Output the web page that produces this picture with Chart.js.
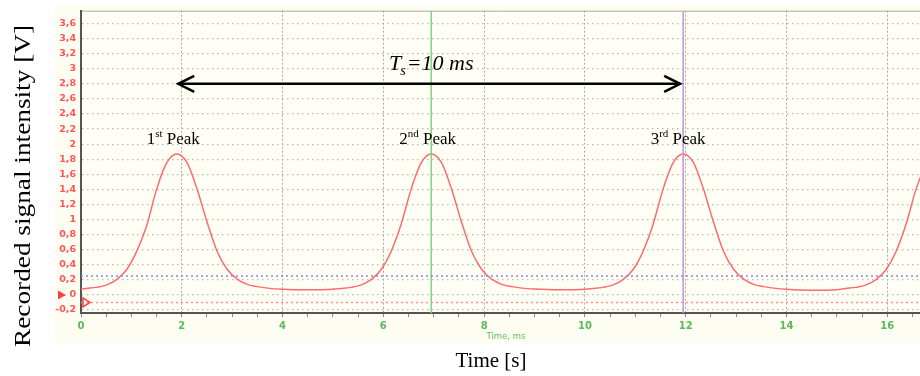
<!DOCTYPE html>
<html>
<head>
<meta charset="utf-8">
<script src="https://cdn.jsdelivr.net/npm/chart.js@4.4.1/dist/chart.umd.min.js"></script>
<style>
  html, body { margin: 0; padding: 0; background: #ffffff; }
  #wrap { width: 920px; height: 376px; }
</style>
</head>
<body>
<div id="wrap"><canvas id="c" width="920" height="376"></canvas></div>
<script>
// ---- data ----
const timeMs = [
  0, 0.1, 0.3, 0.5, 0.7, 0.9, 1.1, 1.3, 1.5, 1.7, 1.9, 2.1, 2.3, 2.5, 2.7, 2.9, 3.1, 3.3, 3.5, 3.7, 4.0, 4.5, 5.0,
  5.15, 5.35, 5.55, 5.75, 5.95, 6.15, 6.35, 6.55, 6.75, 6.95, 7.15, 7.35, 7.55, 7.75, 7.95, 8.15, 8.35, 8.55, 8.75, 9.0, 9.5, 10.0,
  10.15, 10.35, 10.55, 10.75, 10.95, 11.15, 11.35, 11.55, 11.75, 11.95, 12.15, 12.35, 12.55, 12.75, 12.95, 13.15, 13.35, 13.55, 13.75, 14.0, 14.5, 15.0,
  15.17, 15.37, 15.57, 15.77, 15.97, 16.17, 16.37, 16.57, 16.77
];
const signalV = [
  0.075, 0.085, 0.10, 0.13, 0.20, 0.33, 0.57, 0.91, 1.40, 1.75, 1.87, 1.76, 1.41, 0.97, 0.58, 0.34, 0.21, 0.14, 0.11, 0.09, 0.075, 0.068, 0.075,
  0.085, 0.10, 0.13, 0.20, 0.33, 0.57, 0.93, 1.40, 1.75, 1.87, 1.76, 1.41, 0.97, 0.58, 0.34, 0.21, 0.14, 0.11, 0.09, 0.078, 0.068, 0.075,
  0.085, 0.10, 0.13, 0.20, 0.33, 0.57, 0.93, 1.40, 1.75, 1.87, 1.76, 1.41, 0.97, 0.58, 0.34, 0.21, 0.14, 0.11, 0.09, 0.075, 0.063, 0.07,
  0.085, 0.10, 0.13, 0.20, 0.33, 0.57, 0.93, 1.40, 1.75
];
const thresholdV = 0.25;          // blue dotted level
const triggerV = -0.1;            // red dotted level
const cursorTimes = [6.95, 11.95]; // green, purple cursors
const peakLabels = [
  { t: 1.83, v: 2.0, n: '1', sup: 'st' },
  { t: 6.88, v: 2.0, n: '2', sup: 'nd' },
  { t: 11.85, v: 2.0, n: '3', sup: 'rd' }
];
const periodArrow = { from: 1.93, to: 11.89, v: 2.8 };
const periodText = { t: 6.95, v: 2.98 };
const xRange = [0, 16.65];
const yRange = [-0.24, 3.77];

// ---- build datasets ----
const signalPts = timeMs.map((t, i) => ({ x: t, y: signalV[i] }));

const serif = '"Liberation Serif", "Times New Roman", serif';
const sans = '"DejaVu Sans", Verdana, sans-serif';

const decor = {
  id: 'decor',
  beforeDraw(chart) {
    const ctx = chart.ctx, a = chart.chartArea;
    ctx.save();
    ctx.fillStyle = '#ffffff';
    ctx.fillRect(0, 0, chart.width, chart.height);
    ctx.fillStyle = '#fdfdf1';
    ctx.fillRect(55, 4, chart.width - 55, 339);
    ctx.fillStyle = '#fffff5';
    ctx.fillRect(a.left, a.top, a.right - a.left, a.bottom - a.top);
    ctx.strokeStyle = '#a8a8a8';
    ctx.lineWidth = 1;
    ctx.beginPath();
    ctx.moveTo(a.left, a.top + 0.5);
    ctx.lineTo(a.right, a.top + 0.5);
    ctx.stroke();
    ctx.restore();
  },
  afterDraw(chart) {
    const ctx = chart.ctx, xs = chart.scales.x, ys = chart.scales.y;
    ctx.save();
    // trigger markers
    const y0 = ys.getPixelForValue(0);
    ctx.fillStyle = '#ff4040';
    ctx.beginPath();
    ctx.moveTo(58, y0 - 4.5); ctx.lineTo(66, y0); ctx.lineTo(58, y0 + 4.5); ctx.closePath();
    ctx.fill();
    const yt = ys.getPixelForValue(triggerV);
    ctx.strokeStyle = '#ff4040'; ctx.lineWidth = 1.5;
    ctx.beginPath();
    ctx.moveTo(83, yt - 4.5); ctx.lineTo(90, yt); ctx.lineTo(83, yt + 4.5); ctx.closePath();
    ctx.stroke();

    // double-headed arrow
    const xa = xs.getPixelForValue(periodArrow.from), xb = xs.getPixelForValue(periodArrow.to);
    const ya = ys.getPixelForValue(periodArrow.v);
    ctx.strokeStyle = '#000'; ctx.lineWidth = 2.5; ctx.lineCap = 'butt'; ctx.lineJoin = 'miter';
    ctx.beginPath(); ctx.moveTo(xa, ya); ctx.lineTo(xb, ya); ctx.stroke();
    ctx.beginPath(); ctx.moveTo(xa + 16, ya - 8); ctx.lineTo(xa, ya); ctx.lineTo(xa + 16, ya + 8); ctx.stroke();
    ctx.beginPath(); ctx.moveTo(xb - 16, ya - 8); ctx.lineTo(xb, ya); ctx.lineTo(xb - 16, ya + 8); ctx.stroke();

    // T_s = 10 ms
    ctx.fillStyle = '#000';
    ctx.textBaseline = 'alphabetic';
    const tx = xs.getPixelForValue(periodText.t), ty = ys.getPixelForValue(periodText.v);
    ctx.font = 'italic 22px ' + serif;
    const wT = ctx.measureText('T').width;
    ctx.font = 'italic 14px ' + serif;
    const wS = ctx.measureText('s').width;
    ctx.font = 'italic 22px ' + serif;
    const wR = ctx.measureText('=10 ms').width;
    const total = wT + wS + wR;
    let cx = tx - total / 2;
    ctx.textAlign = 'left';
    ctx.fillText('T', cx, ty); cx += wT;
    ctx.font = 'italic 14px ' + serif;
    ctx.fillText('s', cx - 1, ty + 5); cx += wS;
    ctx.font = 'italic 22px ' + serif;
    ctx.fillText('=10 ms', cx, ty);

    // peak labels
    peakLabels.forEach(p => {
      const px = xs.getPixelForValue(p.t), py = ys.getPixelForValue(p.v);
      ctx.font = '17px ' + serif;
      const wn = ctx.measureText(p.n).width;
      const wp = ctx.measureText(' Peak').width;
      ctx.font = '11px ' + serif;
      const ws = ctx.measureText(p.sup).width;
      let x = px - (wn + ws + wp) / 2;
      ctx.font = '17px ' + serif;
      ctx.fillText(p.n, x, py); x += wn;
      ctx.font = '11px ' + serif;
      ctx.fillText(p.sup, x, py - 7); x += ws;
      ctx.font = '17px ' + serif;
      ctx.fillText(' Peak', x, py);
    });

    // small software axis caption
    ctx.fillStyle = '#66bb66';
    ctx.font = '8.5px ' + sans;
    ctx.textAlign = 'center';
    ctx.textBaseline = 'middle';
    ctx.fillText('Time, ms', 506, 337);

    // axis titles
    ctx.fillStyle = '#000';
    ctx.font = '21px ' + serif;
    ctx.textBaseline = 'alphabetic';
    ctx.fillText('Time [s]', 491, 367);

    ctx.save();
    ctx.translate(30, 186);
    ctx.rotate(-Math.PI / 2);
    ctx.font = '24px ' + serif;
    const yt2 = 'Recorded signal intensity [V]';
    const w = ctx.measureText(yt2).width;
    ctx.scale(322 / w, 1);
    ctx.textAlign = 'center';
    ctx.fillText(yt2, 0, 0);
    ctx.restore();

    ctx.restore();
  }
};

new Chart(document.getElementById('c'), {
  type: 'line',
  data: {
    datasets: [
      {
        label: 'threshold',
        data: [{ x: xRange[0], y: thresholdV }, { x: xRange[1], y: thresholdV }],
        borderColor: '#8585ff', borderWidth: 1.5, borderDash: [2, 3], pointRadius: 0
      },
      {
        label: 'trigger',
        data: [{ x: xRange[0], y: triggerV }, { x: xRange[1], y: triggerV }],
        borderColor: '#ff9090', borderWidth: 1.5, borderDash: [2, 3], pointRadius: 0
      },
      {
        label: 'cursor1',
        data: [{ x: cursorTimes[0], y: yRange[0] }, { x: cursorTimes[0], y: yRange[1] }],
        borderColor: '#85cf85', borderWidth: 1.5, pointRadius: 0
      },
      {
        label: 'cursor2',
        data: [{ x: cursorTimes[1], y: yRange[0] }, { x: cursorTimes[1], y: yRange[1] }],
        borderColor: '#c992d9', borderWidth: 1.5, pointRadius: 0
      },
      {
        label: 'signal',
        data: signalPts,
        borderColor: '#ff6a6a', borderWidth: 1.5, pointRadius: 0,
        cubicInterpolationMode: 'monotone'
      }
    ]
  },
  options: {
    responsive: false,
    animation: false,
    events: [],
    layout: { padding: { left: 0, top: 6, right: 0, bottom: 0 } },
    plugins: { legend: { display: false }, tooltip: { enabled: false } },
    scales: {
      x: {
        type: 'linear',
        min: xRange[0], max: xRange[1],
        afterFit(s) { s.height = 63; },
        border: { display: true, color: '#555555', width: 2, dash: [2, 2] },
        grid: {
          color: c => (c.tick && Math.abs(c.tick.value % 2) < 1e-6) ? '#a8a8a8' : 'transparent',
          lineWidth: 1,
          drawTicks: true, tickLength: 4, tickColor: '#888888', tickWidth: 1
        },
        ticks: {
          stepSize: 0.5, includeBounds: false, autoSkip: false, maxRotation: 0,
          padding: 3,
          color: '#5cb85c',
          font: { family: sans, size: 10, weight: 'bold' },
          callback: v => (Math.abs(v % 2) < 1e-6) ? String(v) : ''
        }
      },
      y: {
        type: 'linear',
        min: yRange[0], max: yRange[1],
        afterFit(s) { s.width = 81; },
        border: { display: true, color: '#555555', width: 2, dash: [1.5, 3.5] },
        grid: { color: '#b8b8b8', lineWidth: 1.2, drawTicks: false },
        ticks: {
          stepSize: 0.2, includeBounds: false, padding: 5,
          color: '#ff5555',
          font: { family: sans, size: 9.5, weight: 'bold' },
          callback: v => String(Math.round(v * 10) / 10).replace('.', ',')
        }
      }
    }
  },
  plugins: [decor]
});
</script>
</body>
</html>
